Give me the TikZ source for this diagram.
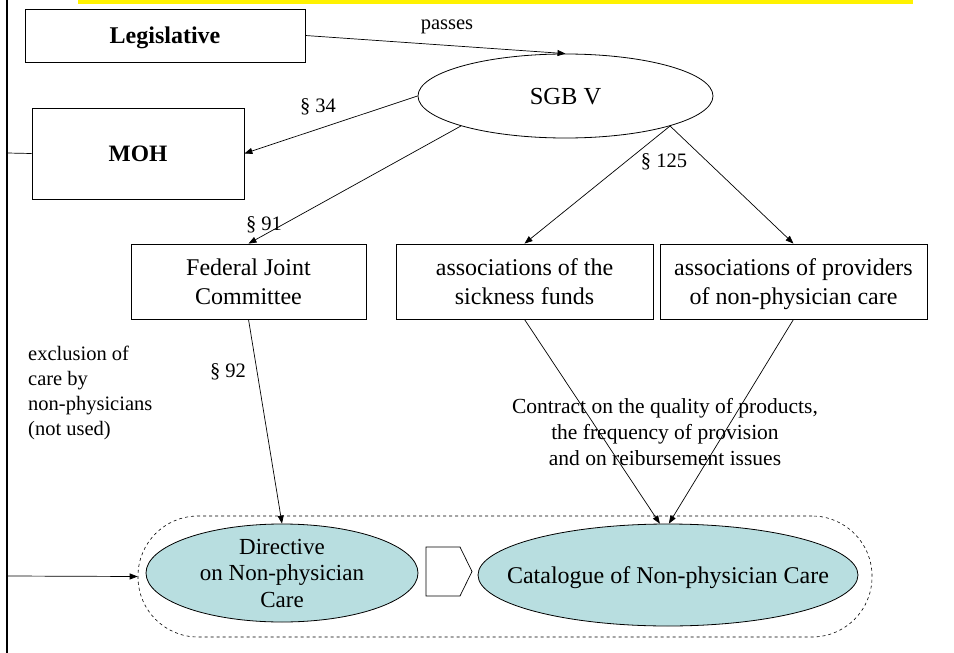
\documentclass[tikz,border=0pt]{standalone}
\usepackage{fontspec}
\setmainfont{Liberation Serif}
\usetikzlibrary{arrows.meta,shapes.geometric}

\definecolor{careteal}{RGB}{184,222,224}

\tikzset{
  box/.style={draw, line width=0.8pt, inner sep=0pt, align=center, text depth=-3pt, font=\fontsize{24}{29.3}\selectfont},
  oval/.style={draw, ellipse, line width=0.8pt, inner sep=0pt, align=center},
  care/.style={oval, fill=careteal, font=\fontsize{23}{26.5}\selectfont},
  law/.style={anchor=base, inner sep=0pt, font=\fontsize{20.5}{25}\selectfont},
  link/.style={-{Triangle[length=8pt,width=6pt]}, line width=0.7pt},
}

\begin{document}
\begin{tikzpicture}[x=1pt,y=-1pt]
% Fix the page to the size of the picture
\useasboundingbox (0,0) rectangle (954,653);

% Yellow banner and the frame line on the left
\fill[yellow] (78,0) rectangle (913,3.5);
\draw[line width=2.3pt] (7,0) -- (7,653);
\coordinate (frameMOH) at (7,153);
\coordinate (frameCat) at (7,576);

% The actors
\node[box, font=\fontsize{24}{29}\selectfont\bfseries, minimum width=280, minimum height=53] (legis) at (165,35.5) {Legislative};
\node[box, font=\fontsize{23.5}{29}\selectfont\bfseries, minimum width=212, minimum height=91] (moh) at (138,153.5) {MOH};
\node[oval, text depth=-2pt, font=\fontsize{24.5}{30}\selectfont, minimum width=295, minimum height=84] (sgb) at (565.5,96) {SGB V};
\node[box, minimum width=235, minimum height=75] (fjc) at (248.5,281.5) {Federal Joint\\Committee};
\node[box, minimum width=257, minimum height=75] (funds) at (524.5,281.5) {associations of the\\sickness funds};
\node[box, minimum width=267, minimum height=75] (providers) at (793.5,281.5) {associations of providers\\of non-physician care};

% Dashed group with the two results
\node[draw, dashed, line width=0.6pt, rounded corners=60, minimum width=734, minimum height=121] (group) at (505,576.5) {};
\node[care, inner ysep=-4pt, minimum width=272, minimum height=98] (directive) at (282,573) {Directive\\on Non-physician\\Care};
\node[care, inner xsep=-40pt, text depth=-2pt, font=\fontsize{24}{29}\selectfont, minimum width=380, minimum height=102] (catalogue) at (668,575) {Catalogue of Non-physician Care};
\draw[line width=0.7pt] (426,547) -- (460,547) -- (472,571.5) -- (460,596) -- (426,596) -- cycle;

% Connectors
\draw[link] (legis.east) -- (sgb.north);
\draw[link] (sgb.west) -- (moh.east);
\draw[link] (sgb.196) -- (fjc.north);
\draw[link] (sgb.344) -- (funds.north);
\draw[link] (sgb.344) -- (providers.north);
\draw[link] (fjc.south) -- (directive.north);
\draw[link] (funds.south) -- (catalogue.99);
\draw[link] (providers.south) -- (catalogue.89);
\draw[line width=0.7pt] (frameMOH) -- (moh.west);
\draw[link] (frameCat) -- (group.west);

% Labels
\node[law] (passes) at (447,30) {passes};
\node[law] (p34) at (318,112) {\S\ 34};
\node[law] (p91) at (264,230) {\S\ 91};
\node[law] (p125) at (664,167) {\S\ 125};
\node[law] (p92) at (228,377) {\S\ 92};
\node[anchor=north west, inner sep=0pt, align=left, font=\fontsize{20.5}{25}\selectfont] (exclusion) at (28,346) {exclusion of\\care by\\non-physicians\\(not used)};
\node[anchor=north, inner sep=0pt, align=center, font=\fontsize{21.5}{26}\selectfont] (contract) at (665,398) {Contract on the quality of products,\\the frequency of provision\\and on reibursement issues};
\end{tikzpicture}
\end{document}
